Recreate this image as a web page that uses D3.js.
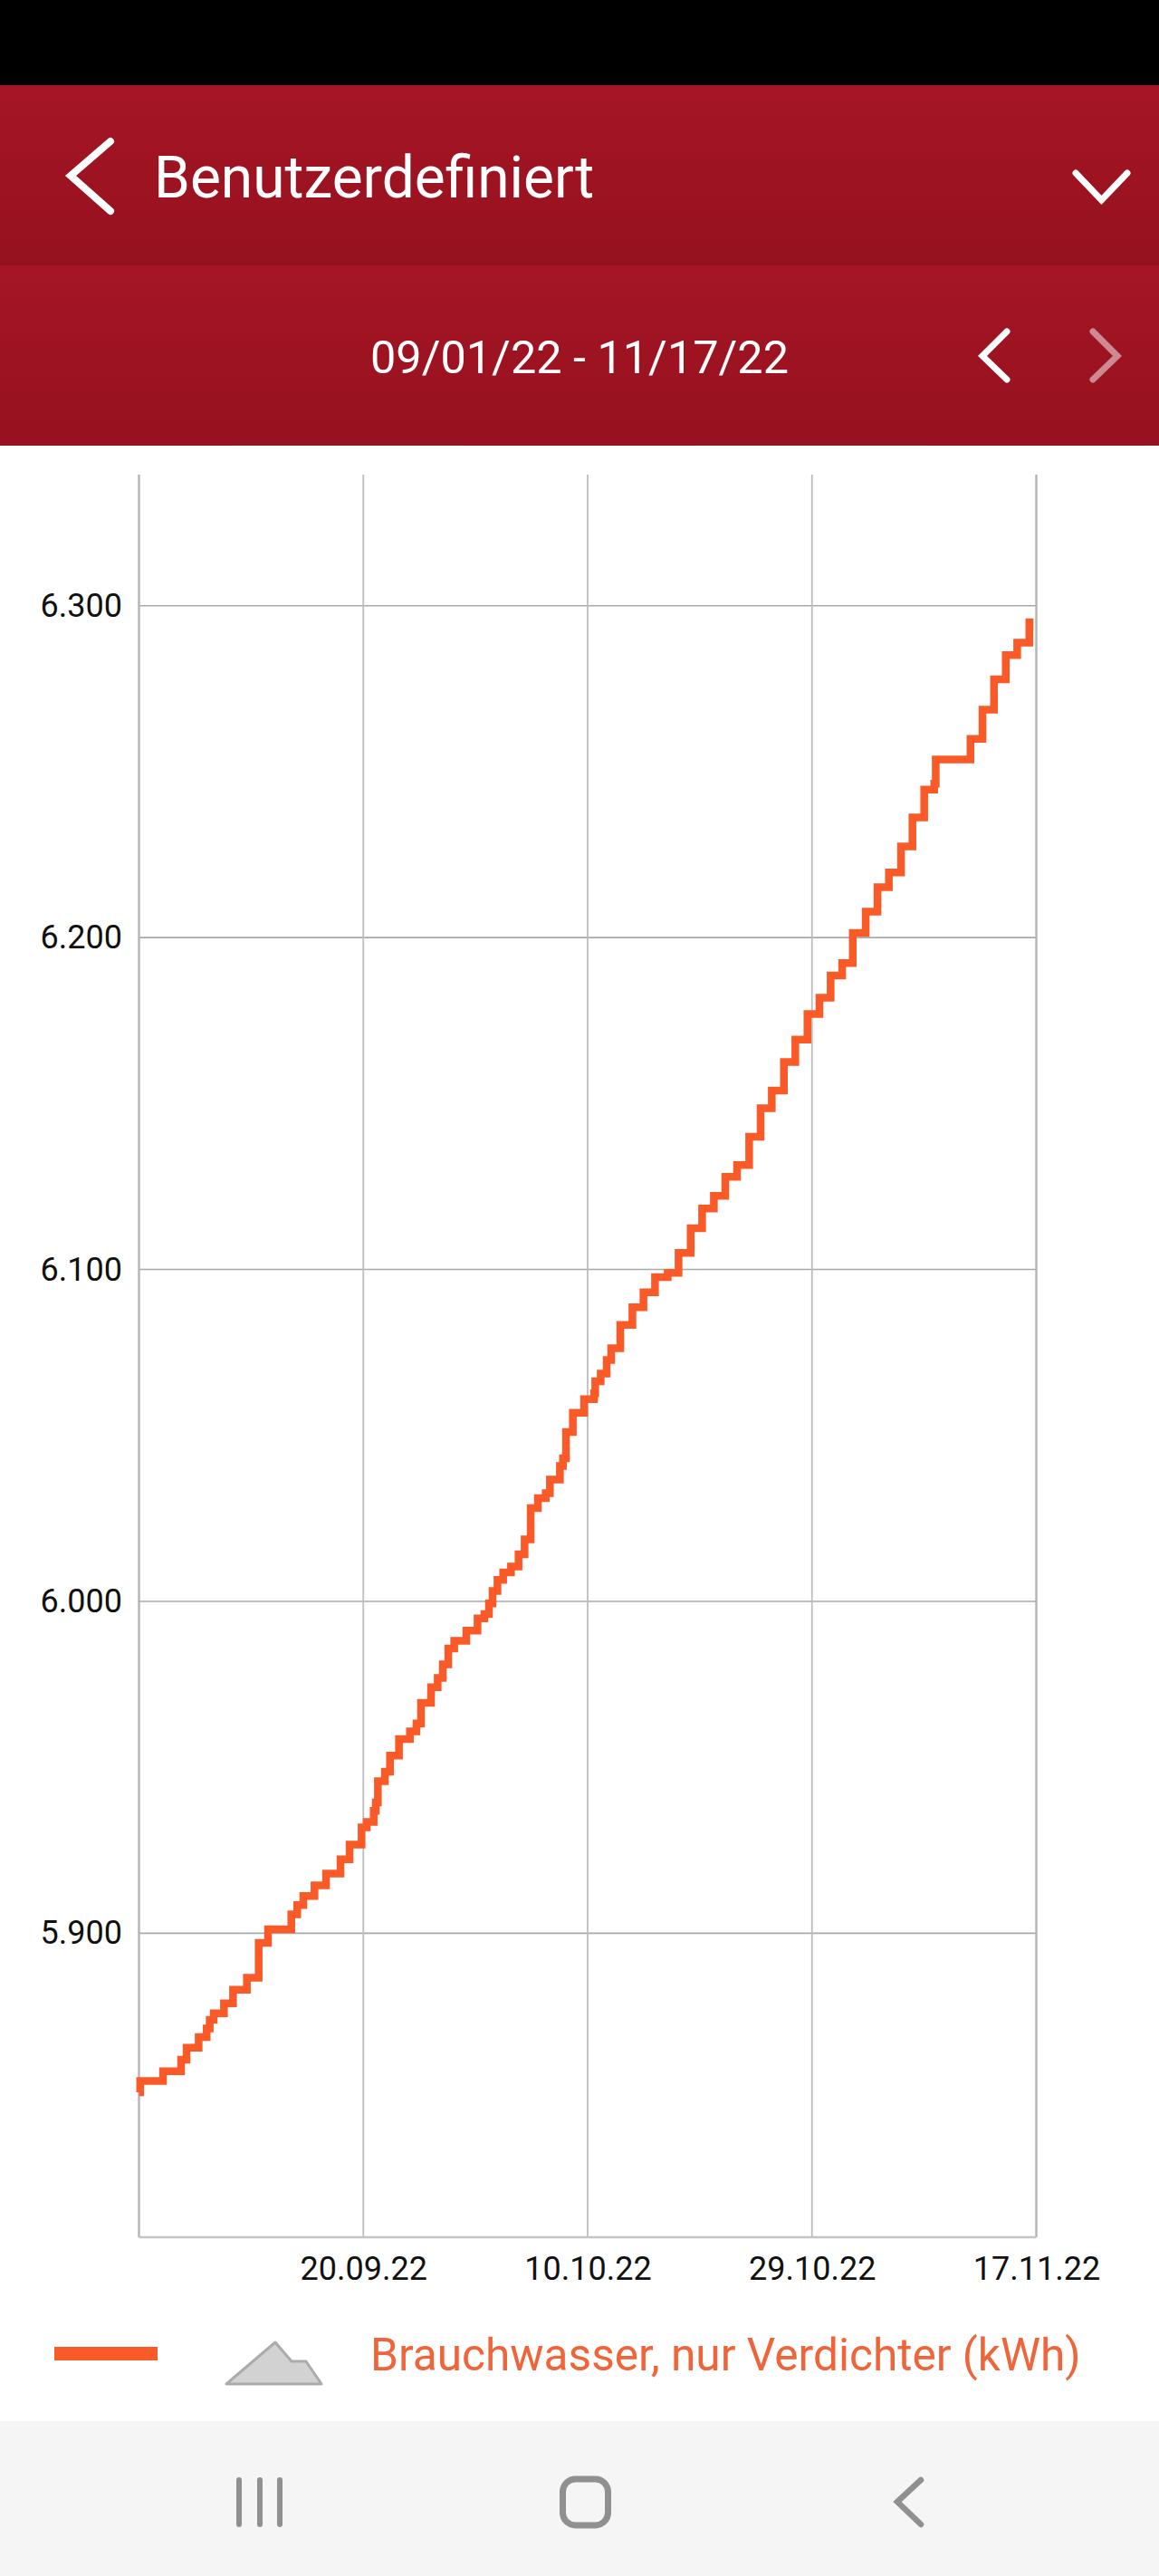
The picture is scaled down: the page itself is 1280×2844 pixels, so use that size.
<!DOCTYPE html>
<html lang="de">
<head>
<meta charset="utf-8">
<title>Benutzerdefiniert</title>
<script src="https://cdn.jsdelivr.net/npm/d3@7"></script>
<style>
html,body{margin:0;padding:0;background:#fff;}
svg{display:block;font-family:Roboto,"Noto Sans",sans-serif;}
</style>
</head>
<body>
<div id="chart"></div>
<script>
// Days since 01.09.22 at which a step occurs, and the value from that day on
const stepDays = [0,0.1,2.06,3.61,4.08,5.12,5.81,6.07,6.41,7.29,8.07,9.26,10.27,11.07,13.07,13.58,14.10,15.06,16.05,17.29,18.07,19.10,19.54,20.14,20.32,20.50,21.10,21.54,22.31,23.25,23.81,
 24.20,25.06,25.63,26.07,26.54,27.05,28.09,29.05,29.64,30.03,30.34,30.76,31.25,31.92,32.57,33.09,33.61,34.23,34.90,35.26,36.12,36.38,36.64,37.23,38.19,39.05,39.15,39.62,40.13,
 40.52,41.30,42.34,43.29,44.28,45.37,46.30,47.34,48.32,49.33,50.31,51.32,52.36,53.34,54.30,55.34,56.32,57.36,58.39,
 59.35,60.34,61.25,62.36,63.37,64.35,65.39,66.37,67.38,68.24,68.37,71.35,72.38,73.37,74.38,75.36,76.40,76.42,76.62];
const stepValues = [5.8521,5.8555,5.8584,5.8619,5.8655,5.8687,5.8713,5.8739,5.8759,5.8789,5.8830,5.8866,5.8971,5.9012,5.9057,5.9085,5.9112,5.9144,5.9180,5.9223,5.9267,5.9319,5.9335,5.9369,5.9394,5.9458,5.9487,5.9535,5.9585,5.9608,5.9632,
 5.9694,5.9741,5.9769,5.9810,5.9858,5.9881,5.9912,5.9949,5.9962,5.9994,6.0031,6.0065,6.0087,6.0105,6.0142,6.0187,6.0281,6.0311,6.0326,6.0367,6.0408,6.0431,6.0510,6.0568,6.0609,6.0627,6.0663,6.0686,6.0727,
 6.0763,6.0833,6.0886,6.0931,6.0977,6.0990,6.1050,6.1124,6.1184,6.1222,6.1279,6.1315,6.1400,6.1486,6.1539,6.1625,6.1693,6.1770,6.1819,
 6.1886,6.1923,6.2014,6.2078,6.2152,6.2196,6.2275,6.2362,6.2446,6.2464,6.2537,6.2599,6.2687,6.2778,6.2851,6.2889,6.2950,6.2925,6.2925];
const endDay = 76.62;
const xTickDays = [0,19.25,38.5,57.75,77];
const xTickLabels = ["","20.09.22","10.10.22","29.10.22","17.11.22"];
const yTicks = [5.9,6.0,6.1,6.2,6.3];
const seriesName = "Brauchwasser, nur Verdichter (kWh)";
const titleText = "Benutzerdefiniert";
const rangeText = "09/01/22 - 11/17/22";

const W = 1280, H = 2844;
const plot = {left:153.5, right:1144.5, top:524, bottom:2470};
const lineColor = "#fa5a28";

const x = d3.scaleLinear().domain([0,77]).range([plot.left,plot.right]);
const y = d3.scaleLinear().domain([5.8084,6.3395]).range([plot.bottom,plot.top]);

const svg = d3.select("#chart").append("svg").attr("width",W).attr("height",H).attr("viewBox",`0 0 ${W} ${H}`);
const defs = svg.append("defs");
const grad = defs.append("linearGradient").attr("id","bar").attr("x1",0).attr("x2",0).attr("y1",0).attr("y2",1);
grad.append("stop").attr("offset","0%").attr("stop-color","#a51525");
grad.append("stop").attr("offset","100%").attr("stop-color","#96111f");

svg.append("rect").attr("width",W).attr("height",H).attr("fill","#fff");
svg.append("rect").attr("width",W).attr("height",94).attr("fill","#000");
svg.append("rect").attr("y",94).attr("width",W).attr("height",199).attr("fill","url(#bar)");
svg.append("rect").attr("y",293).attr("width",W).attr("height",199).attr("fill","url(#bar)");

const chevron = d3.line();
function icon(pts,color,w,op){
  svg.append("path").attr("d",chevron(pts)).attr("fill","none").attr("stroke",color)
    .attr("stroke-width",w).attr("stroke-opacity",op==null?1:op).attr("stroke-linecap","round").attr("stroke-linejoin","miter");
}
icon([[122,156],[78,194],[122,233]],"#fff",8);
icon([[1188,191],[1216.5,221],[1245,191]],"#fff",7);
icon([[1112,366],[1085,393],[1112,419]],"#fff",7);
icon([[1207,366],[1234,393],[1207,419]],"#fff",7,0.5);

svg.append("text").attr("x",170).attr("y",218).attr("fill","#fff").attr("font-size",64).text(titleText);
svg.append("text").attr("x",640).attr("y",412).attr("text-anchor","middle").attr("fill","#fff").attr("font-size",50.4).text(rangeText);

// grid + axes
const yAxis = d3.axisLeft(y).tickValues(yTicks).tickFormat(d3.format(".3f")).tickSize(0).tickPadding(18.5);
const gy = svg.append("g").attr("transform",`translate(${plot.left},0)`).call(yAxis);
gy.select(".domain").remove();
gy.selectAll("text").attr("font-size",36).attr("fill","#111").attr("font-family","Roboto");

const xAxis = d3.axisBottom(x).tickValues(xTickDays).tickFormat((d,i)=>xTickLabels[i]).tickSize(0).tickPadding(21);
const gx = svg.append("g").attr("transform",`translate(0,${plot.bottom})`).call(xAxis);
gx.select(".domain").remove();
gx.selectAll("text").attr("font-size",36).attr("fill","#111").attr("font-family","Roboto");

svg.append("g").selectAll("line").data(yTicks).join("line")
  .attr("x1",plot.left).attr("x2",plot.right).attr("y1",d=>y(d)).attr("y2",d=>y(d))
  .attr("stroke","#a9a9a9").attr("stroke-width",1.6);
svg.append("g").selectAll("line").data(xTickDays).join("line")
  .attr("x1",d=>x(d)).attr("x2",d=>x(d)).attr("y1",plot.top).attr("y2",plot.bottom)
  .attr("stroke",(d,i)=>i===0||i===4?"#b4b4b4":"#bdbdbd").attr("stroke-width",(d,i)=>i===0||i===4?2.4:1.8);
svg.append("line").attr("x1",plot.left).attr("x2",plot.right).attr("y1",plot.bottom).attr("y2",plot.bottom)
  .attr("stroke","#c4c4c4").attr("stroke-width",2.4);

// the stepped series
const pts = stepDays.map((d,i)=>[d,stepValues[i]]);
pts.push([endDay,stepValues[stepValues.length-1]]);
const line = d3.line().x(d=>x(d[0])).y(d=>y(d[1])).curve(d3.curveStepAfter);
svg.append("path").datum(pts).attr("d",line).attr("fill","none").attr("stroke",lineColor)
  .attr("stroke-width",8.5).attr("stroke-linejoin","miter");

// legend
svg.append("rect").attr("x",60).attr("y",2591).attr("width",114).attr("height",15).attr("fill",lineColor);
svg.append("path").attr("d","M250,2632L304,2586L322,2607L338,2607L355,2632Z")
  .attr("fill","#d2d2d2").attr("stroke","#ababab").attr("stroke-width",3).attr("stroke-linejoin","round");
svg.append("text").attr("x",409).attr("y",2617).attr("fill","#f0643a").attr("font-size",49.6).text(seriesName);

// system navigation bar
svg.append("rect").attr("y",2673).attr("width",W).attr("height",H-2673).attr("fill","#f5f5f5");
svg.append("g").selectAll("line").data([264,287,309]).join("line")
  .attr("x1",d=>d).attr("x2",d=>d).attr("y1",2738).attr("y2",2787)
  .attr("stroke","#909090").attr("stroke-width",6).attr("stroke-linecap","round");
svg.append("rect").attr("x",621.5).attr("y",2737).attr("width",50).attr("height",51).attr("rx",14)
  .attr("fill","none").attr("stroke","#909090").attr("stroke-width",7);
icon([[1017,2738],[991,2762],[1017,2787]],"#909090",6.5);
</script>
</body>
</html>
